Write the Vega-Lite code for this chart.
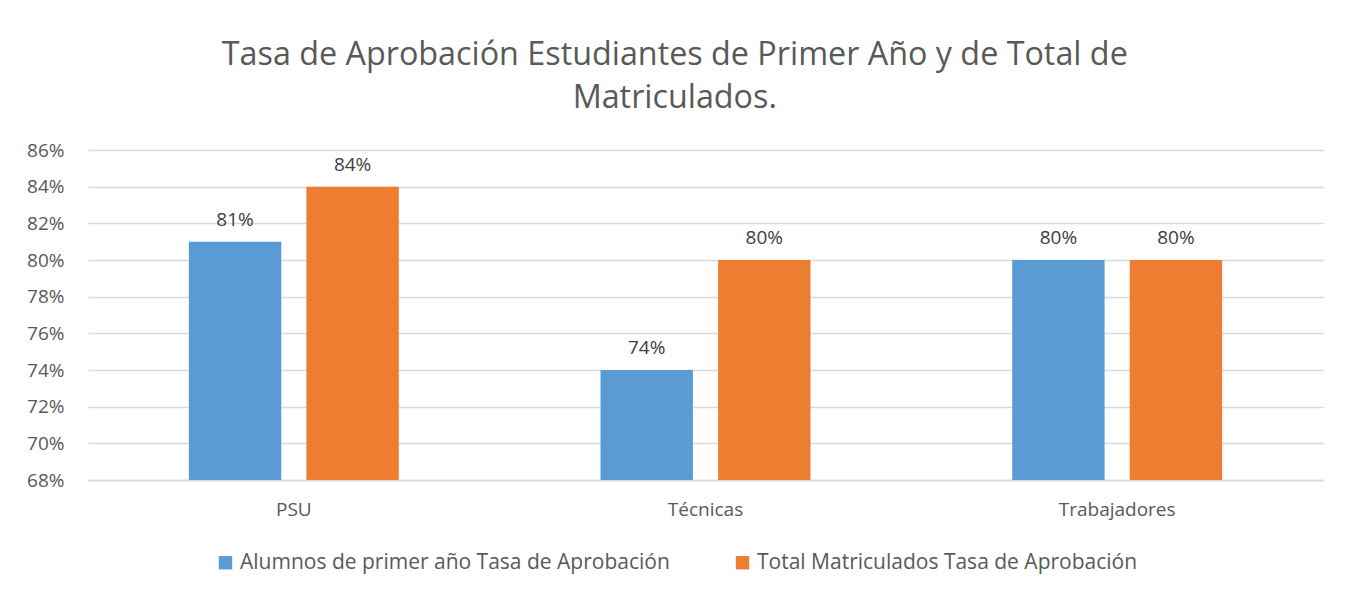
{
  "$schema": "https://vega.github.io/schema/vega-lite/v6.json",
  "width": 1235,
  "height": 330,
  "autosize": {"type": "none"},
  "padding": {"left": 88, "top": 150, "right": 27, "bottom": 117},
  "background": "white",
  "title": {
    "text": ["Tasa de Aprobación Estudiantes de Primer Año y de Total de", "Matriculados."],
    "fontSize": 32.3,
    "font": "Open Sans",
    "fontWeight": "normal",
    "color": "#595959",
    "anchor": "middle",
    "frame": "bounds",
    "lineHeight": 43,
    "offset": 27
  },
  "data": {
    "values": [
      {"cat": "PSU", "serie": "Alumnos de primer año Tasa de Aprobación", "v": 0.81},
      {"cat": "PSU", "serie": "Total Matriculados Tasa de Aprobación", "v": 0.84},
      {"cat": "Técnicas", "serie": "Alumnos de primer año Tasa de Aprobación", "v": 0.74},
      {"cat": "Técnicas", "serie": "Total Matriculados Tasa de Aprobación", "v": 0.80},
      {"cat": "Trabajadores", "serie": "Alumnos de primer año Tasa de Aprobación", "v": 0.80},
      {"cat": "Trabajadores", "serie": "Total Matriculados Tasa de Aprobación", "v": 0.80}
    ]
  },
  "config": {
    "view": {"stroke": null},
    "font": "Open Sans"
  },
  "encoding": {
    "x": {
      "field": "cat", "type": "nominal", "sort": null, "title": null,
      "scale": {"paddingInner": 0.49, "paddingOuter": 0.245},
      "axis": {"labelAngle": 0, "labelFontSize": 19, "labelColor": "#595959", "labelPadding": 20, "ticks": false, "domainColor": "#d9d9d9", "domainWidth": 1.3, "labelFont": "Open Sans"}
    },
    "xOffset": {
      "field": "serie", "type": "nominal",
      "scale": {"paddingInner": 0.214, "paddingOuter": 0}
    },
    "y": {
      "field": "v", "type": "quantitative", "title": null,
      "scale": {"domain": [0.68, 0.86], "zero": false, "nice": false},
      "axis": {"format": ".0%", "values": [0.68,0.70,0.72,0.74,0.76,0.78,0.80,0.82,0.84,0.86], "labelFontSize": 19, "labelColor": "#595959", "labelPadding": 24, "ticks": false, "domain": false, "gridColor": "#d9d9d9", "gridWidth": 1.3, "labelFont": "Open Sans"}
    }
  },
  "layer": [
    {
      "mark": {"type": "bar", "clip": true},
      "encoding": {
        "color": {
          "field": "serie", "type": "nominal", "title": null,
          "scale": {"domain": ["Alumnos de primer año Tasa de Aprobación", "Total Matriculados Tasa de Aprobación"], "range": ["#5b9bd5", "#ed7d31"]},
          "legend": {"orient": "none", "legendX": 127, "legendY": 402, "direction": "horizontal", "symbolType": "square", "symbolSize": 180, "labelFontSize": 21, "labelColor": "#595959", "columnPadding": 62, "labelFont": "Open Sans", "symbolStrokeWidth": 0, "labelOffset": 4, "labelLimit": 700}
        }
      }
    },
    {
      "mark": {"type": "text", "dy": -12, "baseline": "bottom", "fontSize": 19, "color": "#404040", "font": "Open Sans"},
      "encoding": {
        "text": {"field": "v", "type": "quantitative", "format": ".0%"}
      }
    }
  ]
}
